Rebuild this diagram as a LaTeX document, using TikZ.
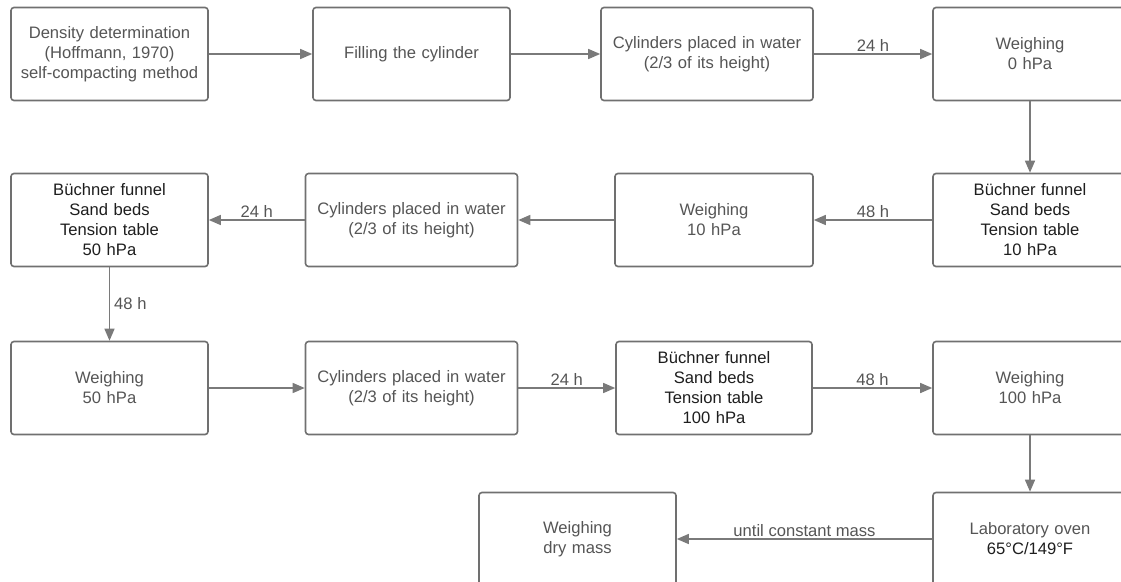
\documentclass[tikz,border=0pt]{standalone}
\usepackage{fontspec}
\setmainfont{Liberation Sans}
\usetikzlibrary{arrows.meta}
\definecolor{boxline}{HTML}{707070}
\definecolor{arrowline}{HTML}{7A7A7A}
\definecolor{txtgray}{HTML}{555555}
\definecolor{txtdark}{HTML}{1E1E1E}
\tikzset{
  box/.style={draw=boxline, line width=1.6pt, rounded corners=3pt, fill=white,
    minimum height=93pt, text width=#1, minimum width=#1, align=center,
    inner sep=0pt, text=txtgray, font=\fontsize{16.6pt}{20pt}\selectfont},
  box/.default=197pt,
  rightbox/.style={box=194pt},
  darktext/.style={text=txtdark},
  conn/.style={draw=arrowline, line width=1.4pt, -{Triangle[length=12pt,width=10pt]}},
  lbl/.style={text=txtgray, font=\fontsize{16.6pt}{20pt}\selectfont, inner sep=2pt}
}
\begin{document}
\begin{tikzpicture}[x=1pt,y=-1pt]
\useasboundingbox (0,0) rectangle (1121,581);
\clip (0,0) rectangle (1121,581);
% row 1
\node[box] (A) at (109.5,54) {Density determination\\(Hoffmann, 1970)\\self-compacting method};
\node[box] (B) at (411.5,54) {Filling the cylinder};
\node[box=212pt] (C) at (707,54) {Cylinders placed in water\\(2/3 of its height)};
\node[rightbox] (D) at (1030,54) {Weighing\\0 hPa};
% row 2
\node[box, darktext] (E) at (109.5,220) {Büchner funnel\\Sand beds\\Tension table\\50 hPa};
\node[box=212pt] (F) at (411.5,220) {Cylinders placed in water\\(2/3 of its height)};
\node[box=198pt] (G) at (714,220) {Weighing\\10 hPa};
\node[rightbox, darktext] (H) at (1030,220) {Büchner funnel\\Sand beds\\Tension table\\10 hPa};
% row 3
\node[box] (I) at (109.5,388) {Weighing\\50 hPa};
\node[box=212pt] (J) at (411.5,388) {Cylinders placed in water\\(2/3 of its height)};
\node[box=196pt, darktext] (K) at (714,388) {Büchner funnel\\Sand beds\\Tension table\\100 hPa};
\node[rightbox] (L) at (1030,388) {Weighing\\100 hPa};
% row 4
\node[box] (M) at (577.5,539) {Weighing\\dry mass};
\node[rightbox] (N) at (1030,539) {Laboratory oven\\\textcolor{txtdark}{65°C/149°F}};
% connectors
\draw[conn] (A) -- (B);
\draw[conn] (B) -- (C);
\draw[conn] (C) -- node[lbl, above] {24 h} (D);
\draw[conn] (D) -- (H);
\draw[conn] (H) -- node[lbl, above] {48 h} (G);
\draw[conn] (G) -- (F);
\draw[conn] (F) -- node[lbl, above] {24 h} (E);
\draw[conn] (E) -- node[lbl, right, xshift=2pt] {48 h} (I);
\draw[conn] (I) -- (J);
\draw[conn] (J) -- node[lbl, above] {24 h} (K);
\draw[conn] (K) -- node[lbl, above] {48 h} (L);
\draw[conn] (L) -- (N);
\draw[conn] (N) -- node[lbl, above] {until constant mass} (M);
\end{tikzpicture}
\end{document}
